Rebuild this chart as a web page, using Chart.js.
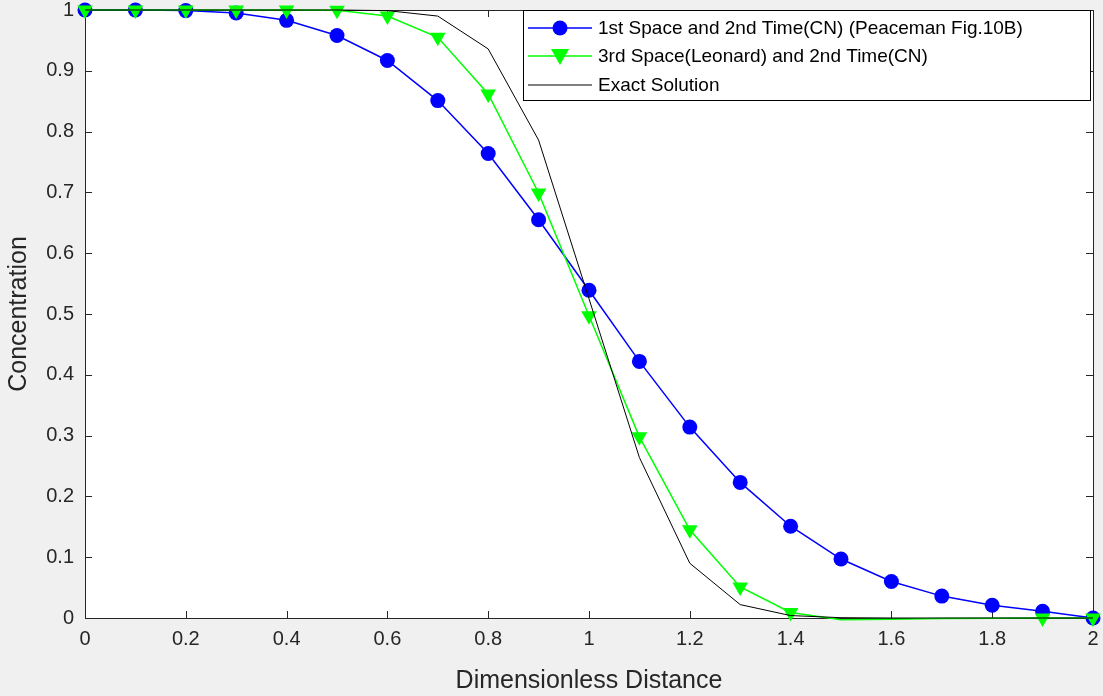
<!DOCTYPE html>
<html>
<head>
<meta charset="utf-8">
<script src="https://cdn.jsdelivr.net/npm/chart.js@4"></script>
<style>
  html, body { margin: 0; padding: 0; background: #f0f0f0; }
  #wrap { width: 1103px; height: 696px; }
</style>
</head>
<body>
<div id="wrap"><canvas id="concPlot" width="1103" height="696"></canvas></div>
<script>
// Sample positions and the three concentration profiles
const distance = [0, 0.1, 0.2, 0.3, 0.4, 0.5, 0.6, 0.7, 0.8, 0.9, 1.0,
                  1.1, 1.2, 1.3, 1.4, 1.5, 1.6, 1.7, 1.8, 1.9, 2.0];

const peacemanValues = [1.0, 1.0, 0.999, 0.995, 0.983, 0.958, 0.917, 0.851, 0.764, 0.655, 0.539,
                        0.422, 0.314, 0.223, 0.151, 0.097, 0.060, 0.036, 0.021, 0.011, 0.0];

const leonardValues = [1.0, 1.0, 1.0, 1.0, 1.0, 0.9995, 0.990, 0.955, 0.862, 0.699, 0.497,
                       0.298, 0.145, 0.051, 0.009, -0.003, -0.002, -0.001, -0.0005, 0.0, 0.0];

const exactValues = [1.0, 1.0, 1.0, 1.0, 1.0, 1.0, 0.999, 0.990, 0.936, 0.786, 0.525,
                     0.264, 0.090, 0.022, 0.004, 0.0005, 0.0, 0.0, 0.0, 0.0, 0.0];

const xTicks = [0, 0.2, 0.4, 0.6, 0.8, 1, 1.2, 1.4, 1.6, 1.8, 2];
const yTicks = [0, 0.1, 0.2, 0.3, 0.4, 0.5, 0.6, 0.7, 0.8, 0.9, 1];

const seriesLabels = [
    '1st Space and 2nd Time(CN) (Peaceman Fig.10B)',
    '3rd Space(Leonard) and 2nd Time(CN)',
    'Exact Solution'
];

const axisColor = '#262626';
const font = '"Liberation Sans", Arial, Helvetica, sans-serif';

const toPoints = values => distance.map((x, i) => ({ x, y: values[i] }));

// hide markers below the axis, like MATLAB does
const hideNegative = r => ctx => (ctx.raw && ctx.raw.y < 0 ? 0 : r);

// white plot area, box, inward ticks and a MATLAB-style legend
const matlabAxes = {
    id: 'matlabAxes',
    beforeDraw(chart) {
        const { ctx, chartArea: a } = chart;
        ctx.save();
        ctx.fillStyle = '#ffffff';
        ctx.fillRect(a.left, a.top, a.right - a.left, a.bottom - a.top);
        ctx.restore();
    },
    beforeDatasetsDraw(chart) {
        const { ctx, chartArea: a, scales } = chart;
        const len = 7;
        ctx.save();
        ctx.strokeStyle = axisColor;
        ctx.lineWidth = 1;
        ctx.beginPath();
        xTicks.forEach(v => {
            const px = Math.round(scales.x.getPixelForValue(v)) + 0.5;
            ctx.moveTo(px, a.bottom); ctx.lineTo(px, a.bottom - len);
            ctx.moveTo(px, a.top); ctx.lineTo(px, a.top + len);
        });
        yTicks.forEach(v => {
            const py = Math.round(scales.y.getPixelForValue(v)) + 0.5;
            ctx.moveTo(a.left, py); ctx.lineTo(a.left + len, py);
            ctx.moveTo(a.right, py); ctx.lineTo(a.right - len, py);
        });
        ctx.stroke();
        ctx.strokeRect(Math.round(a.left) + 0.5, Math.round(a.top) + 0.5,
                       Math.round(a.right - a.left), Math.round(a.bottom - a.top));
        ctx.restore();
    },
    afterDraw(chart) {
        const { ctx } = chart;
        const box = { left: 523.5, top: 10.5, width: 567, height: 90 };
        ctx.save();
        ctx.fillStyle = '#ffffff';
        ctx.fillRect(box.left, box.top, box.width, box.height);
        ctx.strokeStyle = '#000000';
        ctx.lineWidth = 1;
        ctx.strokeRect(box.left, box.top, box.width, box.height);

        const rows = [28, 56, 85];
        chart.data.datasets.forEach((ds, i) => {
            const y = rows[i];
            ctx.strokeStyle = ds.borderColor;
            ctx.lineWidth = ds.borderWidth;
            ctx.beginPath();
            ctx.moveTo(528, y);
            ctx.lineTo(592, y);
            ctx.stroke();
            if (ds.legendMarker === 'circle') {
                ctx.fillStyle = ds.backgroundColor;
                ctx.beginPath();
                ctx.arc(560, y, 7.5, 0, Math.PI * 2);
                ctx.fill();
            } else if (ds.legendMarker === 'triangle') {
                ctx.fillStyle = ds.backgroundColor;
                ctx.beginPath();
                ctx.moveTo(551, y - 7);
                ctx.lineTo(569, y - 7);
                ctx.lineTo(560, y + 9);
                ctx.closePath();
                ctx.fill();
            }
            ctx.fillStyle = '#000000';
            ctx.font = '19px ' + font;
            ctx.textBaseline = 'middle';
            ctx.textAlign = 'left';
            ctx.fillText(ds.label, 598, y + 1);
        });
        ctx.restore();
    }
};

new Chart(document.getElementById('concPlot'), {
    type: 'line',
    data: {
        datasets: [
            {
                label: seriesLabels[0],
                data: toPoints(peacemanValues),
                borderColor: '#0000ff',
                backgroundColor: '#0000ff',
                borderWidth: 1.5,
                pointStyle: 'circle',
                pointRadius: hideNegative(7.5),
                pointBorderWidth: 0,
                legendMarker: 'circle',
                order: 3,
                clip: false
            },
            {
                label: seriesLabels[1],
                data: toPoints(leonardValues),
                borderColor: '#00ff00',
                backgroundColor: '#00ff00',
                borderWidth: 1.5,
                pointStyle: 'triangle',
                rotation: 180,
                pointRadius: hideNegative(9),
                pointBorderWidth: 0,
                legendMarker: 'triangle',
                order: 2,
                clip: false
            },
            {
                label: seriesLabels[2],
                data: toPoints(exactValues),
                borderColor: '#000000',
                backgroundColor: '#000000',
                borderWidth: 1,
                pointRadius: 0,
                legendMarker: 'none',
                order: 1,
                clip: false
            }
        ]
    },
    options: {
        responsive: false,
        animation: false,
        devicePixelRatio: 1,
        layout: { padding: { top: 10, right: 10, left: 0, bottom: 0 } },
        elements: { line: { tension: 0 } },
        plugins: {
            legend: { display: false },
            tooltip: { enabled: false }
        },
        scales: {
            x: {
                type: 'linear',
                min: 0,
                max: 2,
                afterBuildTicks: s => { s.ticks = xTicks.map(v => ({ value: v })); },
                afterFit: s => {
                    s.height = 78;
                    s.paddingLeft = 0;
                    s.paddingRight = 0;
                },
                grid: { display: false, drawTicks: false },
                border: { display: false },
                ticks: {
                    color: axisColor,
                    font: { size: 20, family: font },
                    padding: 9,
                    maxRotation: 0,
                    callback: v => String(Math.round(v * 10) / 10)
                },
                title: {
                    display: true,
                    text: 'Dimensionless Distance',
                    color: axisColor,
                    font: { size: 25, family: font },
                    padding: { top: 11, bottom: 0 }
                }
            },
            y: {
                min: 0,
                max: 1,
                afterBuildTicks: s => { s.ticks = yTicks.map(v => ({ value: v })); },
                afterFit: s => {
                    s.width = 85;
                    s.paddingTop = 0;
                    s.paddingBottom = 0;
                },
                grid: { display: false, drawTicks: false },
                border: { display: false },
                ticks: {
                    color: axisColor,
                    font: { size: 20, family: font },
                    padding: 11,
                    callback: v => String(Math.round(v * 10) / 10)
                },
                title: {
                    display: true,
                    text: 'Concentration',
                    color: axisColor,
                    font: { size: 25, family: font },
                    padding: { top: 4, bottom: 0 }
                }
            }
        }
    },
    plugins: [matlabAxes]
});
</script>
</body>
</html>
